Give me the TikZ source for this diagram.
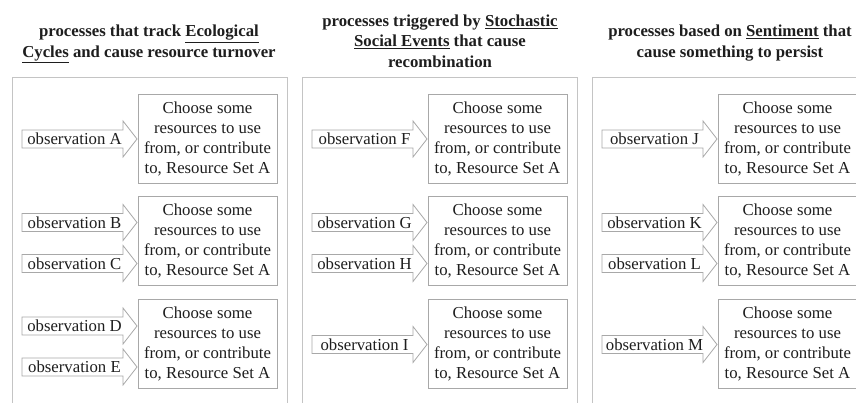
\documentclass[tikz,border=0pt]{standalone}
\usepackage{fontspec}
\setmainfont{Liberation Serif}
\definecolor{panelgray}{HTML}{C4C4C4}
\definecolor{boxgray}{HTML}{A8A8A8}
\definecolor{inkgray}{HTML}{1E1E1E}
\newcommand{\boxfont}{\fontsize{16.75}{20}\selectfont}
\newcommand{\titlefont}{\fontsize{16.75}{20.5}\selectfont\bfseries}
\newcommand{\obsarrow}[4]{%
  \draw[arrowout] (#2,#3-9) -- (#2+101,#3-9) -- (#2+101,#3-18) -- (#2+115,#3)
     -- (#2+101,#3+18) -- (#2+101,#3+9) -- (#2,#3+9) -- cycle;
  \node[obstext] (#1) at (#2+52.5,#3) {#4};}
\begin{document}
\begin{tikzpicture}[x=1pt,y=-1pt,
  panel/.style={draw=panelgray, line width=0.9pt},
  choice/.style={draw=boxgray, line width=0.8pt, fill=white, minimum width=139pt,
     minimum height=89pt, align=center, inner sep=0pt, font=\boxfont, text=inkgray},
  obstext/.style={inner sep=0pt, font=\boxfont, text=inkgray},
  arrowout/.style={draw=boxgray, line width=0.8pt, fill=white, line join=miter},
  titlenode/.style={align=center, inner sep=0pt, font=\titlefont, text=inkgray}]
\useasboundingbox (0,0) rectangle (856,402);
\clip (0,0) rectangle (856,402);
\fill[white] (0,0) rectangle (856,402);

% titles
\node[titlenode] (t1) at (149,44) {processes that track \underline{Ecological}\\ \underline{Cycles} and cause resource turnover};
\node[titlenode] (t2) at (440,41) {processes triggered by \underline{Stochastic}\\ \underline{Social Events} that cause\\ recombination};
\node[titlenode] (t3) at (730,43) {processes based on \underline{Sentiment} that\\ cause something to persist};

% panels
\draw[panel] (12,77) rectangle (287,420);
\draw[panel] (302,77) rectangle (577,420);
\draw[panel] (592,77) rectangle (867,420);

% choice boxes
\foreach \off/\p in {0/1,290/2,580/3}{
  \node[choice] (c\p a) at (207.5+\off,138.5) {Choose some\\resources to use\\from, or contribute\\to, Resource Set A};
  \node[choice] (c\p b) at (207.5+\off,240.5) {Choose some\\resources to use\\from, or contribute\\to, Resource Set A};
  \node[choice] (c\p c) at (207.5+\off,343.8) {Choose some\\resources to use\\from, or contribute\\to, Resource Set A};
}

% observation arrows
\obsarrow{oA}{22}{139}{observation A}
\obsarrow{oB}{22}{222.5}{observation B}
\obsarrow{oC}{22}{263.5}{observation C}
\obsarrow{oD}{22}{326}{observation D}
\obsarrow{oE}{22}{367}{observation E}

\obsarrow{oF}{312}{139}{observation F}
\obsarrow{oG}{312}{222.5}{observation G}
\obsarrow{oH}{312}{263.5}{observation H}
\obsarrow{oI}{312}{344.5}{observation I}

\obsarrow{oJ}{602}{139}{observation J}
\obsarrow{oK}{602}{222.5}{observation K}
\obsarrow{oL}{602}{263.5}{observation L}
\obsarrow{oM}{602}{344.5}{observation M}
\end{tikzpicture}
\end{document}
